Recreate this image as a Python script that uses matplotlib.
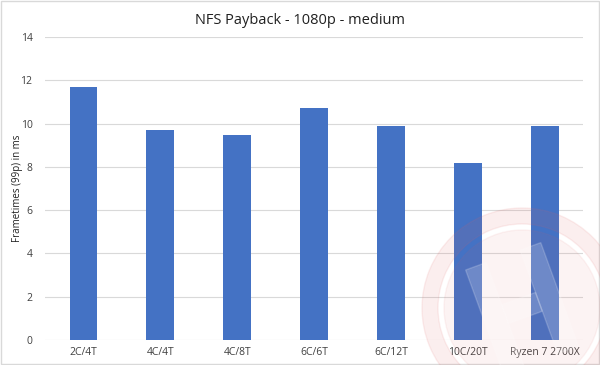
import numpy as np
import matplotlib
matplotlib.use('Agg')
import matplotlib.pyplot as plt
import matplotlib.transforms as mtransforms
from matplotlib.patches import Wedge, Circle, Rectangle

categories = ['2C/4T', '4C/4T', '4C/8T', '6C/6T', '6C/12T', '10C/20T', 'Ryzen 7 2700X']
frametimes = [11.7, 9.7, 9.47, 10.7, 9.9, 8.2, 9.9]
yticks = [0, 2, 4, 6, 8, 10, 12, 14]

plt.rcParams['font.family'] = ['Open Sans', 'DejaVu Sans']

fig = plt.figure(figsize=(6, 3.65), dpi=100)
ax = fig.add_axes([0.075, 0.0685, 0.897, 0.83])

x = np.arange(len(categories))
ax.bar(x, frametimes, width=0.36, color='#4472C4', zorder=3)

ax.set_ylim(0, 14)
ax.set_xlim(-0.5, len(categories) - 0.5)
ax.set_yticks(yticks)
ax.set_xticks(x)
ax.set_xticklabels(categories, fontsize=7.5, color='#404040')
ax.tick_params(axis='y', labelsize=7.5, colors='#404040', length=0, pad=9)
ax.tick_params(axis='x', length=0, pad=5)
ax.grid(axis='y', color='#d9d9d9', linewidth=0.8, zorder=0)
for s in ax.spines.values():
    s.set_visible(False)
ax.set_ylabel('Frametimes (99p) in ms', fontsize=7, color='#202020')
ax.yaxis.set_label_coords(-0.04, 0.5)

fig.text(0.5, 0.945, 'NFS Payback - 1080p - medium', ha='center', va='center',
         fontsize=10.5, color='#202020')

# faint watermark (pixel coords, y downwards)
wm = fig.add_axes([0, 0, 1, 1], zorder=5)
wm.set_xlim(0, 600)
wm.set_ylim(365, 0)
wm.axis('off')
cx, cy = 522, 308
wm.add_patch(Wedge((cx, cy), 100, 0, 360, width=16, color='#e06060', alpha=0.10))
wm.add_patch(Circle((cx, cy), 78, color='#e06060', alpha=0.07))
rot = mtransforms.Affine2D().rotate_deg_around(cx, cy, -20) + wm.transData
for r in [(cx - 40, cy - 55, 22, 110), (cx + 18, cy - 55, 22, 110), (cx - 18, cy - 10, 36, 20)]:
    wm.add_patch(Rectangle(r[:2], r[2], r[3], color='white', alpha=0.18, transform=rot))

# outer border
fig.patches.append(Rectangle((0.002, 0.003), 0.996, 0.994, transform=fig.transFigure,
                             fill=False, edgecolor='#d9d9d9', linewidth=1))

fig.savefig('out.png', dpi=100)
